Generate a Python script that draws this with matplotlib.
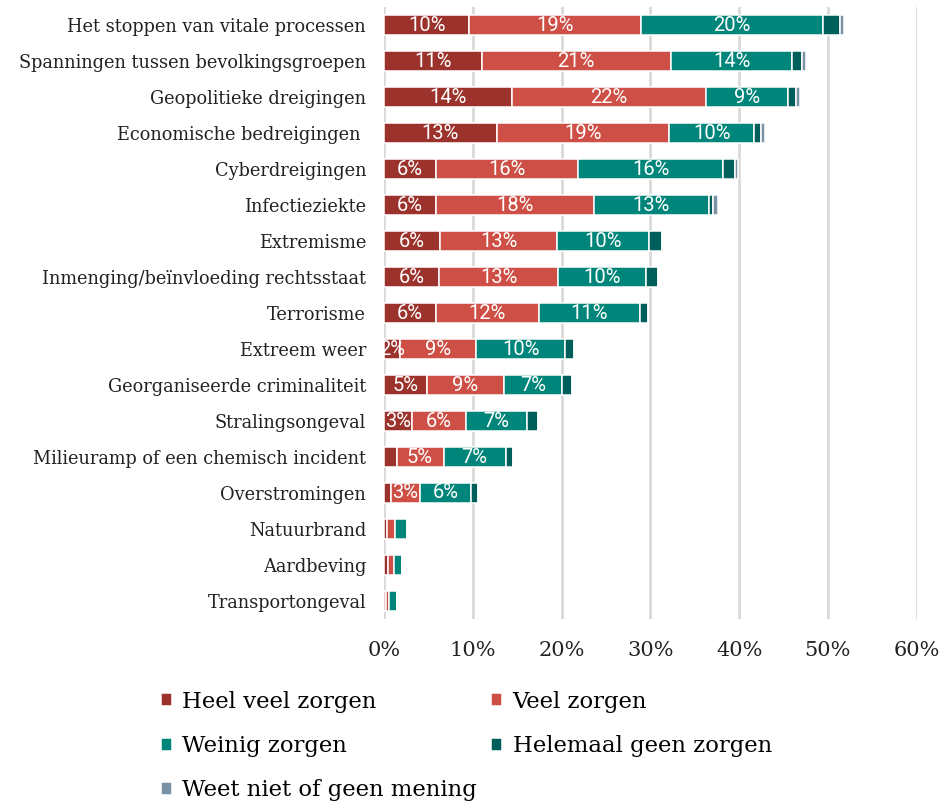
import matplotlib.pyplot as plt
import numpy as np

# Categories (top to bottom)
categories = ['Het stoppen van vitale processen', 'Spanningen tussen bevolkingsgroepen',
              'Geopolitieke dreigingen', 'Economische bedreigingen ', 'Cyberdreigingen',
              'Infectieziekte', 'Extremisme', 'Inmenging/beïnvloeding rechtsstaat',
              'Terrorisme', 'Extreem weer', 'Georganiseerde criminaliteit',
              'Stralingsongeval', 'Milieuramp of een chemisch incident', 'Overstromingen',
              'Natuurbrand', 'Aardbeving', 'Transportongeval']

series_names = ['Heel veel zorgen', 'Veel zorgen', 'Weinig zorgen',
                'Helemaal geen zorgen', 'Weet niet of geen mening']

heel_veel = [9.6, 11.0, 14.4, 12.7, 5.8, 5.8, 6.3, 6.2, 5.8, 1.8, 4.8, 3.2, 1.4, 0.8, 0.3, 0.4, 0.2]
veel = [19.4, 21.3, 21.9, 19.4, 16.1, 17.8, 13.2, 13.4, 11.6, 8.6, 8.7, 6.0, 5.3, 3.2, 0.9, 0.7, 0.4]
weinig = [20.4, 13.7, 9.2, 9.6, 16.3, 13.0, 10.3, 9.9, 11.4, 10.0, 6.6, 6.9, 7.0, 5.8, 1.4, 0.9, 0.8]
helemaal_geen = [2.0, 1.1, 0.9, 0.8, 1.3, 0.5, 1.5, 1.4, 0.9, 1.0, 1.1, 1.2, 0.8, 0.8, 0.0, 0.0, 0.0]
weet_niet = [0.4, 0.4, 0.4, 0.4, 0.4, 0.5, 0.0, 0.0, 0.0, 0.0, 0.0, 0.0, 0.0, 0.0, 0.0, 0.0, 0.0]

colors = ['#9B322B', '#CD4F45', '#00857A', '#005F5A', '#7A92A5']

fig = plt.figure(figsize=(9.46, 8.08), dpi=100)
ax = fig.add_axes([0.406, 0.234, 0.563, 0.757])

y = np.arange(len(categories))
all_series = [heel_veel, veel, weinig, helemaal_geen, weet_niet]
left = np.zeros(len(categories))
handles = []
for i, (vals, col) in enumerate(zip(all_series, colors)):
    vals = np.array(vals)
    bars = ax.barh(y, vals, left=left, height=0.56, color=col, edgecolor='white',
                   linewidth=1.1, label=series_names[i], zorder=3)
    handles.append(bars)
    if i < 3:
        for yy, l, v in zip(y, left, vals):
            if v >= 1.5:
                ax.text(l + v / 2, yy, f'{v:.0f}%', ha='center', va='center',
                        color='white', fontsize=14.5, family='Roboto', zorder=4)
    left += vals

ax.set_xlim(0, 60)
ax.set_ylim(len(categories) - 0.5, -0.5)
ax.set_xticks(np.arange(0, 61, 10))
ax.set_xticklabels([f'{t}%' for t in range(0, 61, 10)], family='DejaVu Serif',
                   fontsize=15, color='#222222')
ax.set_yticks(y)
ax.set_yticklabels(categories, family='DejaVu Serif', fontsize=12.8, color='#222222')
ax.tick_params(axis='both', length=0)
ax.tick_params(axis='x', pad=16)
ax.tick_params(axis='y', pad=13)
ax.grid(axis='x', color='#D9D9D9', linewidth=2, zorder=0)
for s in ax.spines.values():
    s.set_visible(False)

# row-major order in legend: reorder for 2 columns
order = [0, 2, 4, 1, 3]
fig.legend([handles[k] for k in order], [series_names[k] for k in order],
           loc='upper left', bbox_to_anchor=(0.170, 0.145), ncol=2, frameon=False,
           prop={'family': 'DejaVu Serif', 'size': 16.4}, handlelength=0.5,
           handleheight=0.5, handletextpad=0.45, labelspacing=0.98,
           columnspacing=0.6, borderpad=0, borderaxespad=0)

fig.savefig('out.png', dpi=100)
